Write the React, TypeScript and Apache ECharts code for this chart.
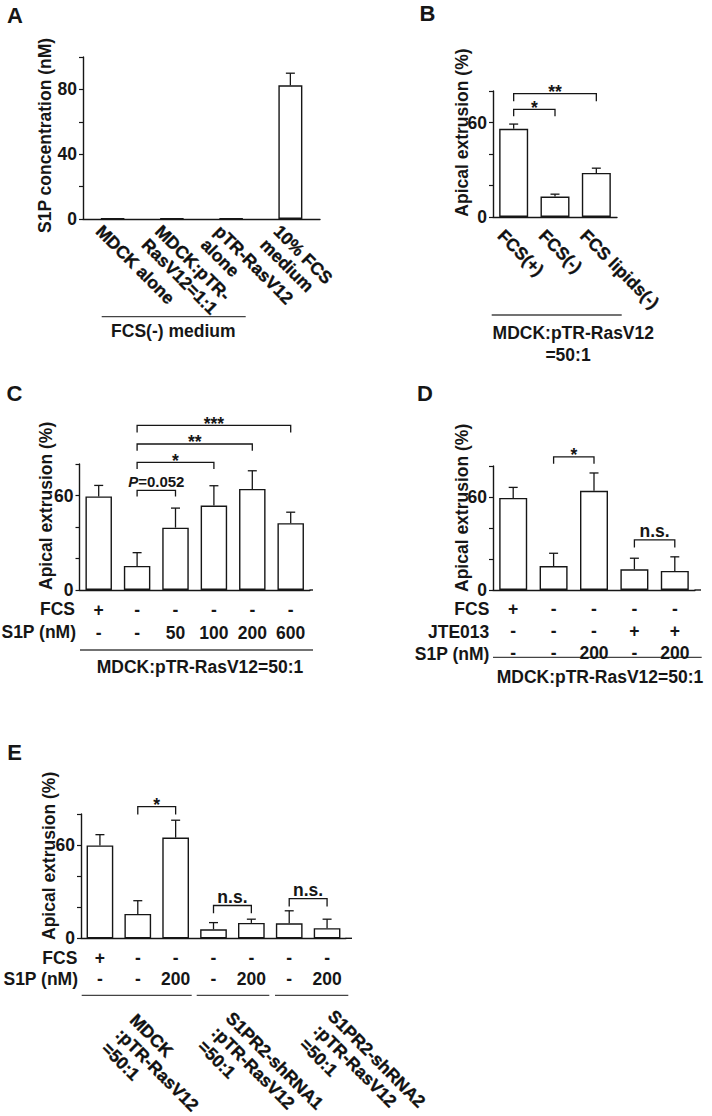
import React, { useEffect, useRef } from "react";
import * as echarts from "echarts";

const FONT = "'Liberation Sans', Arial, Helvetica, sans-serif";
const INK = "#161616";

// ---- Panel A ----
const catsA = ["MDCK alone", "MDCK:pTR-\nRasV12=1:1", "pTR-RasV12\nalone", "10% FCS\nmedium"];
const valsA = [0.3, 0.3, 0.3, 82.5];
const errA: (number | null)[] = [null, null, null, 90];
const ticksShownA = [0, 40, 80];

// ---- Panel B ----
const catsB = ["FCS(+)", "FCS(-)", "FCS lipids(-)"];
const valsB = [56, 13, 28];
const errB = [59, 14.5, 31];
const bracketsB = [[0, 2, 78.3, 73.5], [0, 1, 68.3, 64]];
const bracketLabelsB = ["**", "*"];

// ---- Panel C ----
const fcsC = ["+", "-", "-", "-", "-", "-"];
const s1pC = ["-", "-", "50", "100", "200", "600"];
const valsC = [59.4, 15.3, 39.6, 53.6, 64.2, 42.4];
const errC = [66.4, 23.7, 52, 66.2, 75.7, 49.4];
const bracketsC = [[1, 5, 104.5, 100], [1, 4, 92.7, 88.4], [1, 3, 81, 76.8], [1, 2, 63.2, 59.4]];
const bracketLabelsC = ["***", "**", "*", "{i|P}=0.052"];

// ---- Panel D ----
const fcsD = ["+", "-", "-", "-", "-"];
const jteD = ["-", "-", "-", "+", "+"];
const s1pD = ["-", "-", "200", "-", "200"];
const valsD = [59.4, 15.5, 64, 13.4, 12.3];
const errD = [66.2, 23.7, 75.5, 20.5, 21.4];
const bracketsD = [[1, 2, 85.9, 81.5], [3, 4, 32.4, 27.4]];
const bracketLabelsD = ["*", "n.s."];

// ---- Panel E ----
const fcsE = ["+", "-", "-", "-", "-", "-", "-"];
const s1pE = ["-", "-", "200", "-", "200", "-", "200"];
const valsE = [59.8, 15.7, 64.8, 5.8, 9.9, 9.7, 6.5];
const errE = [66.7, 24.2, 76, 10.1, 12.3, 17.7, 12.3];
const bracketsE = [[1, 2, 84.8, 79.7], [3, 4, 21.1, 16.2], [5, 6, 25.5, 20.5]];
const bracketLabelsE = ["*", "n.s.", "n.s."];
const groupsE = [
  "MDCK\n:pTR-RasV12\n=50:1",
  "S1PR2-shRNA1\n:pTR-RasV12\n=50:1",
  "S1PR2-shRNA2\n:pTR-RasV12\n=50:1",
];

const ticksShown = [0, 60];

function txt(text: string, x: number, y: number, o: any = {}) {
  const align = o.align || "center";
  const va = o.va || "middle";
  const style: any = {
    text,
    fill: o.fill || INK,
    opacity: 1,
    fontSize: o.size || 17.5,
    fontWeight: o.weight || "bold",
    fontFamily: FONT,
    fontStyle: o.style || "normal",
    align,
    textAlign: align,
    verticalAlign: va,
    textVerticalAlign: va,
    lineHeight: o.lh,
  };
  if (o.outline) {
    style.stroke = o.fill || INK;
    style.lineWidth = o.outline;
  }
  return {
    type: "text",
    x,
    y,
    rotation: o.rotation || 0,
    silent: true,
    style,
  };
}

function hline(x1: number, x2: number, y: number, color = "#444", w = 1.3) {
  return {
    type: "line",
    silent: true,
    shape: { x1, y1: y, x2, y2: y },
    style: { stroke: color, lineWidth: w },
  };
}

function yAxis(gridIndex: number, max: number, shown: number[]) {
  return {
    type: "value",
    gridIndex,
    min: 0,
    max,
    interval: 20,
    axisLine: { show: true, lineStyle: { color: INK, width: 1.4 } },
    axisTick: { show: true, length: 4, lineStyle: { color: INK, width: 1.2 } },
    splitLine: { show: false },
    axisLabel: {
      formatter: (v: number) => (shown.indexOf(v) >= 0 ? String(v) : ""),
      color: INK,
      fontSize: 17.5,
      lineHeight: 14,
      fontWeight: "bold",
      fontFamily: FONT,
      margin: 6,
    },
  };
}

function xAxis(gridIndex: number, data: string[], label: any) {
  return {
    type: "category",
    gridIndex,
    data,
    axisLine: { show: true, lineStyle: { color: INK, width: 1.4 } },
    axisTick: { show: false },
    splitLine: { show: false },
    axisLabel: {
      interval: 0,
      color: INK,
      fontSize: 17.5,
      fontWeight: "bold",
      fontFamily: FONT,
      ...label,
    },
  };
}

function barSeries(idx: number, vals: number[], barWidth: number) {
  return {
    type: "bar",
    xAxisIndex: idx,
    yAxisIndex: idx,
    data: vals,
    barWidth,
    silent: true,
    itemStyle: { color: "#ffffff", borderColor: INK, borderWidth: 1.4 },
  };
}

function errSeries(idx: number, vals: number[], errs: (number | null)[]) {
  const data: number[][] = [];
  vals.forEach((v, i) => {
    const e = errs[i];
    if (e != null) data.push([i, v, e]);
  });
  return {
    type: "custom",
    xAxisIndex: idx,
    yAxisIndex: idx,
    data,
    encode: { x: 0, y: [1, 2] },
    silent: true,
    z: 4,
    renderItem: (params: any, api: any) => {
      const x = api.value(0);
      const p0 = api.coord([x, api.value(1)]);
      const p1 = api.coord([x, api.value(2)]);
      const st = { stroke: INK, lineWidth: 1.3 };
      return {
        type: "group",
        children: [
          { type: "line", shape: { x1: p0[0], y1: p0[1], x2: p1[0], y2: p1[1] }, style: st },
          { type: "line", shape: { x1: p1[0] - 4.5, y1: p1[1], x2: p1[0] + 4.5, y2: p1[1] }, style: st },
        ],
      };
    },
  };
}

function bracketSeries(idx: number, data: number[][], labels: string[]) {
  return {
    type: "custom",
    xAxisIndex: idx,
    yAxisIndex: idx,
    data,
    encode: { x: [0, 1], y: [2, 3] },
    clip: false,
    silent: true,
    z: 5,
    renderItem: (params: any, api: any) => {
      const i1 = api.value(0);
      const i2 = api.value(1);
      const top = api.value(2);
      const bot = api.value(3);
      const a = api.coord([i1, top]);
      const b = api.coord([i2, top]);
      const a0 = api.coord([i1, bot]);
      const b0 = api.coord([i2, bot]);
      const label = labels[params.dataIndex];
      const isStar = label.indexOf("*") >= 0;
      const size = label.indexOf("P") >= 0 ? 15 : 17.5;
      const dy = isStar ? 1.5 : 9;
      return {
        type: "group",
        children: [
          {
            type: "polyline",
            shape: { points: [a0, a, b, b0] },
            style: { stroke: INK, lineWidth: 1.3, fill: "none" },
          },
          {
            type: "text",
            x: (a[0] + b[0]) / 2,
            y: a[1] - dy,
            style: {
              text: label,
              fill: INK,
              fontSize: size,
              fontWeight: "bold",
              fontFamily: FONT,
              align: "center",
              textAlign: "center",
              verticalAlign: "middle",
              textVerticalAlign: "middle",
              rich: {
                i: { fontStyle: "italic", fontWeight: "bold", fontSize: size, fontFamily: FONT, fill: INK },
              },
            },
          },
        ],
      };
    },
  };
}

export default function App() {
  const ref = useRef<HTMLDivElement>(null);

  useEffect(() => {
    document.body.style.margin = "0";
    if (!ref.current) return;
    const chart = echarts.init(ref.current, null, { renderer: "svg" });

    const gridBase = { containLabel: false, outerBoundsMode: "none" };
    const grids = [
      { ...gridBase, left: 83, top: 57, width: 237, height: 162 },
      { ...gridBase, left: 493, top: 91, width: 124, height: 126 },
      { ...gridBase, left: 79.5, top: 464, width: 230.4, height: 126 },
      { ...gridBase, left: 493, top: 466, width: 202, height: 124 },
      { ...gridBase, left: 81, top: 814, width: 265, height: 124.3 },
    ];

    const rowLh = 12;
    const rot = { rotation: -Math.PI / 4, align: "left", va: "top", lh: 19, fill: "#111111", outline: 0.35 };

    const graphic: any[] = [
      // panel letters
      txt("A", 15, 15.5, { size: 22 }),
      txt("B", 427.5, 13.5, { size: 22 }),
      txt("C", 14.5, 393.5, { size: 22 }),
      txt("D", 425, 393.5, { size: 22 }),
      txt("E", 14.5, 752, { size: 22 }),
      // y axis names
      txt("S1P concentration (nM)", 45, 233, { rotation: Math.PI / 2, align: "left" }),
      txt("Apical extrusion (%)", 461.7, 216.7, { rotation: Math.PI / 2, align: "left" }),
      txt("Apical extrusion (%)", 45.5, 590, { rotation: Math.PI / 2, align: "left" }),
      txt("Apical extrusion (%)", 461.7, 592, { rotation: Math.PI / 2, align: "left" }),
      txt("Apical extrusion (%)", 49, 940, { rotation: Math.PI / 2, align: "left" }),
      // row headers
      txt("FCS", 75, 609.3, { align: "right", lh: rowLh }),
      txt("S1P (nM)", 76, 632, { align: "right", lh: rowLh }),
      txt("FCS", 489.3, 609.3, { align: "right", lh: rowLh }),
      txt("JTE013", 489.3, 632, { align: "right", lh: rowLh }),
      txt("S1P (nM)", 489.3, 653.5, { align: "right", lh: rowLh }),
      txt("FCS", 77.3, 957.5, { align: "right", lh: rowLh }),
      txt("S1P (nM)", 78, 978.5, { align: "right", lh: rowLh }),
      // x axis line extensions (reference axis lines run past last band)
      hline(309.5, 313, 590, INK, 1.4),
      hline(694.5, 701, 590, INK, 1.4),
      hline(345.5, 352, 938.3, INK, 1.4),
      // underlines + captions
      hline(101.7, 245.7, 316.7),
      txt("FCS(-) medium", 173.3, 330.7),
      hline(491.7, 621.7, 315),
      txt("MDCK:pTR-RasV12", 573.3, 333),
      txt("=50:1", 568, 355),
      hline(80, 313, 650),
      txt("MDCK:pTR-RasV12=50:1", 200, 666.7),
      hline(493, 701.7, 657.3),
      txt("MDCK:pTR-RasV12=50:1", 600, 676.7),
      hline(81.7, 191.7, 995.3),
      hline(196.7, 269.3, 995.3),
      hline(275, 348.3, 995.3),
      // group labels E
      txt(groupsE[0], 140, 1010, { ...rot, lh: 20 }),
      txt(groupsE[1], 236, 1008, { ...rot, lh: 20 }),
      txt(groupsE[2], 338, 1006, { ...rot, lh: 20 }),
    ];

    const option: any = {
      animation: false,
      backgroundColor: "#ffffff",
      textStyle: { fontFamily: FONT },
      grid: grids,
      xAxis: [
        xAxis(0, catsA, { show: false }),
        xAxis(1, catsB, { show: false }),
        xAxis(2, fcsC.map((f, i) => f + "\n" + s1pC[i]), { lineHeight: 23, margin: 8 }),
        xAxis(3, fcsD.map((f, i) => f + "\n" + jteD[i] + "\n" + s1pD[i]), { lineHeight: 22, margin: 8 }),
        xAxis(4, fcsE.map((f, i) => f + "\n" + s1pE[i]), { lineHeight: 21, margin: 8.7 }),
      ],
      yAxis: [
        yAxis(0, 100, ticksShownA),
        yAxis(1, 80, ticksShown),
        yAxis(2, 80, ticksShown),
        yAxis(3, 80, ticksShown),
        yAxis(4, 80, ticksShown),
      ],
      series: [
        barSeries(0, valsA, 24),
        errSeries(0, valsA, errA),
        barSeries(1, valsB, 29),
        errSeries(1, valsB, errB),
        bracketSeries(1, bracketsB, bracketLabelsB),
        barSeries(2, valsC, 26.5),
        errSeries(2, valsC, errC),
        bracketSeries(2, bracketsC, bracketLabelsC),
        barSeries(3, valsD, 28),
        errSeries(3, valsD, errD),
        bracketSeries(3, bracketsD, bracketLabelsD),
        barSeries(4, valsE, 26.7),
        errSeries(4, valsE, errE),
        bracketSeries(4, bracketsE, bracketLabelsE),
      ],
      graphic,
    };

    chart.setOption(option);

    // rotated category labels for panels A and B, anchored at each category's
    // pixel position as given by the axis scale
    const catLabels: any[] = [];
    catsA.forEach((c, i) => {
      const px = chart.convertToPixel({ xAxisIndex: 0, yAxisIndex: 0 } as any, [i, 0]) as any;
      catLabels.push(txt(c, px[0] - 7, px[1] + 2.5, rot));
    });
    catsB.forEach((c, i) => {
      const px = chart.convertToPixel({ xAxisIndex: 1, yAxisIndex: 1 } as any, [i, 0]) as any;
      catLabels.push(txt(c, px[0] - 6.3, px[1] + 9, rot));
    });
    chart.setOption({ graphic: graphic.concat(catLabels) });

    return () => {
      chart.dispose();
    };
  }, []);

  return <div ref={ref} style={{ width: 712, height: 1116 }} />;
}
